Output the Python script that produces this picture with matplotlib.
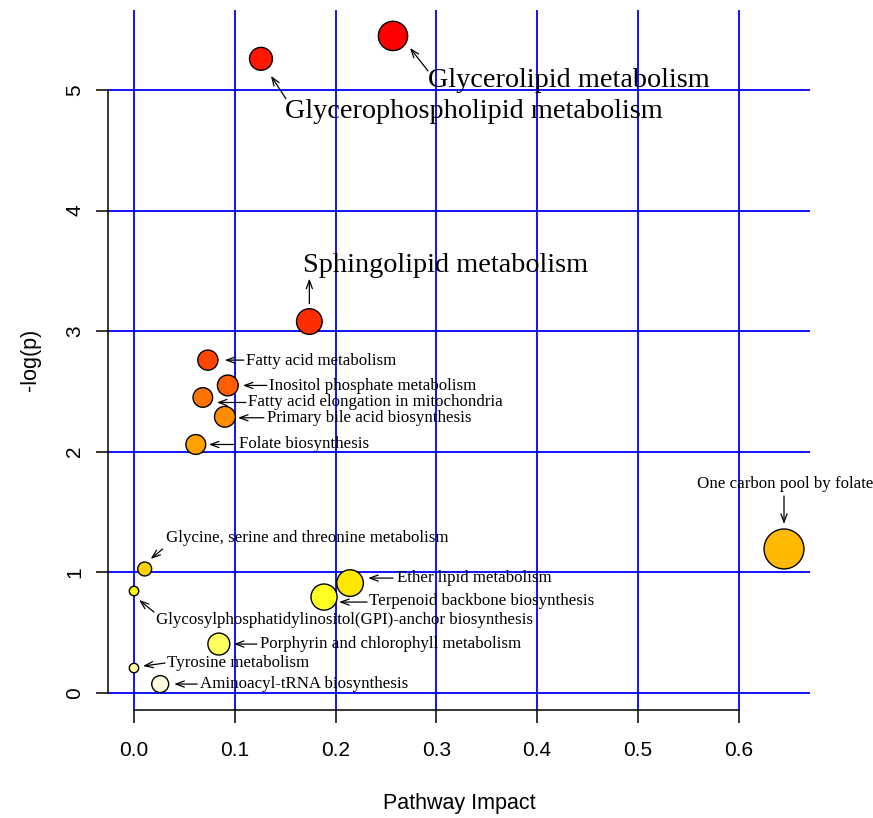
import numpy as np
import matplotlib
matplotlib.use("Agg")
import matplotlib.pyplot as plt
from matplotlib.colors import hsv_to_rgb
from matplotlib.transforms import offset_copy

# ---------------- data ----------------
pathways = [
    "Glycerolipid metabolism",
    "Glycerophospholipid metabolism",
    "Sphingolipid metabolism",
    "Fatty acid metabolism",
    "Inositol phosphate metabolism",
    "Fatty acid elongation in mitochondria",
    "Primary bile acid biosynthesis",
    "Folate biosynthesis",
    "One carbon pool by folate",
    "Glycine, serine and threonine metabolism",
    "Ether lipid metabolism",
    "Glycosylphosphatidylinositol(GPI)-anchor biosynthesis",
    "Terpenoid backbone biosynthesis",
    "Porphyrin and chlorophyll metabolism",
    "Tyrosine metabolism",
    "Aminoacyl-tRNA biosynthesis",
]
impact = [0.257, 0.126, 0.174, 0.0733, 0.0931, 0.0683, 0.0902, 0.0613,
          0.645, 0.0106, 0.2144, 0.0, 0.1886, 0.0842, 0.0, 0.026]
neglogp = [5.45, 5.26, 3.08, 2.76, 2.55, 2.45, 2.29, 2.06,
           1.193, 1.027, 0.91, 0.844, 0.794, 0.404, 0.205, 0.072]
node_size = [30.7, 24.3, 27.0, 21.5, 22.2, 21.0, 22.2, 21.2,
             41.3, 15.3, 28.0, 10.8, 27.5, 23.3, 10.8, 18.3]
x_ticks = [0.0, 0.1, 0.2, 0.3, 0.4, 0.5, 0.6]
x_tick_labels = ["0.0", "0.1", "0.2", "0.3", "0.4", "0.5", "0.6"]
y_ticks = [0, 1, 2, 3, 4, 5]
y_tick_labels = ["0", "1", "2", "3", "4", "5"]

# ---------------- label layout (pixel offsets from the point; up positive) ----------------
# text offset, arrow tail offset, arrow head offset, big font?, halign
label_layout = {
    "Glycerolipid metabolism": ((35, -45), (35, -35), (17, -12), True, "left"),
    "Glycerophospholipid metabolism": ((24, -53), (25, -40), (10, -17), True, "left"),
    "Sphingolipid metabolism": ((-6, 56), (0, 18), (0, 43), True, "left"),
    "Fatty acid metabolism": ((38, -1), (36, 0), (17, 0), False, "left"),
    "Inositol phosphate metabolism": ((41, -1), (39, 0), (15, 0), False, "left"),
    "Fatty acid elongation in mitochondria": ((45, -5), (43, -5), (14, -5), False, "left"),
    "Primary bile acid biosynthesis": ((42, -1), (39, -1), (13, -1), False, "left"),
    "Folate biosynthesis": ((43, 0), (39, 0), (13, 0), False, "left"),
    "One carbon pool by folate": ((1, 65), (0, 53), (0, 25), False, "center"),
    "Glycine, serine and threonine metabolism": ((21, 31), (18, 20), (6, 10), False, "left"),
    "Ether lipid metabolism": ((47, 5), (43, 5), (18, 5), False, "left"),
    "Glycosylphosphatidylinositol(GPI)-anchor biosynthesis": ((22, -29), (20, -21), (5, -9), False, "left"),
    "Terpenoid backbone biosynthesis": ((45, -4), (43, -5), (15, -5), False, "left"),
    "Porphyrin and chlorophyll metabolism": ((41, 0), (38, 0), (15, 0), False, "left"),
    "Tyrosine metabolism": ((33, 5), (31, 5), (9, 2), False, "left"),
    "Aminoacyl-tRNA biosynthesis": ((40, 0), (37, 0), (14, 0), False, "left"),
}


def heat_colors(n):
    """R's heat.colors(n)."""
    j = n // 4
    i = n - j
    cols = [hsv_to_rgb(((k / (i - 1)) * (1 / 6), 1.0, 1.0)) for k in range(i)]
    for s in np.linspace(1 - 1 / (2 * j), 1 / (2 * j), j):
        cols.append(hsv_to_rgb((1 / 6, s, 1.0)))
    return cols


sans = ["Liberation Sans", "DejaVu Sans"]
serif = ["Liberation Serif", "DejaVu Serif"]

DPI = 100
W, H = 873, 818
fig = plt.figure(figsize=(W / DPI, H / DPI), dpi=DPI)
L, R, T, B = 108, 810, 10, 710
ax = fig.add_axes([L / W, 1 - B / H, (R - L) / W, (B - T) / H])

x = np.array(impact)
y = np.array(neglogp)
xr = x.max() - x.min()
yr = y.max() - y.min()
ax.set_xlim(x.min() - 0.04 * xr, x.max() + 0.04 * xr)
ax.set_ylim(y.min() - 0.04 * yr, y.max() + 0.04 * yr)

# colours by p-value rank
order = np.argsort(-y)
hc = heat_colors(len(y))
colors = [None] * len(y)
for rank, idx in enumerate(order):
    colors[idx] = hc[rank]

ax.set_xticks(x_ticks)
ax.set_xticklabels(x_tick_labels)
ax.set_yticks(y_ticks)
ax.set_yticklabels(y_tick_labels, rotation=90, va="center")
ax.grid(True, color="#0000ff", linewidth=1.3, zorder=1)
ax.set_axisbelow(True)

lw_edge = 1.0
sizes = [((d * 0.72) - lw_edge) ** 2 for d in node_size]
ax.scatter(x, y, s=sizes, c=colors, edgecolors="black", linewidths=lw_edge, zorder=3)

for i, name in enumerate(pathways):
    toff, tail, head, big, ha = label_layout[name]
    tt = offset_copy(ax.transData, fig=fig, x=toff[0], y=toff[1], units="dots")
    ax.text(x[i], y[i], name, transform=tt, ha=ha, va="center",
            fontsize=20.3 if big else 12.2, family=serif, color="black", zorder=4)
    ht = offset_copy(ax.transData, fig=fig, x=head[0], y=head[1], units="dots")
    tlt = offset_copy(ax.transData, fig=fig, x=tail[0], y=tail[1], units="dots")
    ax.annotate("", xy=(x[i], y[i]), xycoords=ht, xytext=(x[i], y[i]), textcoords=tlt,
                arrowprops=dict(arrowstyle="->,head_length=0.6,head_width=0.22",
                                color="black", lw=0.9, shrinkA=0, shrinkB=0,
                                mutation_scale=10), zorder=4)

for s in ["top", "right"]:
    ax.spines[s].set_visible(False)
ax.spines["left"].set_bounds(0, 5)
ax.spines["bottom"].set_bounds(0, 0.6)
for s in ["left", "bottom"]:
    ax.spines[s].set_linewidth(1.1)
ax.tick_params(axis="both", length=9, width=1.1, labelsize=15, color="black")
ax.tick_params(axis="x", pad=13)
ax.tick_params(axis="y", pad=8)
for lab in ax.get_xticklabels() + ax.get_yticklabels():
    lab.set_family(sans)

ax.set_xlabel("Pathway Impact", fontsize=15.5, family=sans)
ax.set_ylabel("-log(p)", fontsize=15.5, family=sans)
ax.xaxis.label.set_va("center")
ax.yaxis.label.set_va("center")
ax.xaxis.set_label_coords(0.5, (B - 803) / (B - T))
ax.yaxis.set_label_coords((30 - L) / (R - L), 0.5)

fig.savefig("out.png", dpi=DPI)
